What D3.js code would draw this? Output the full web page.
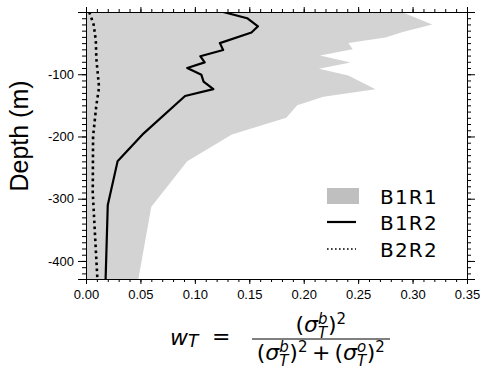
<!DOCTYPE html>
<html>
<head>
<meta charset="utf-8">
<script src="https://cdn.jsdelivr.net/npm/d3@7"></script>
<style>
    body { margin: 0; background: white; }
    .axis path, .axis line { stroke: black; }
</style>
</head>
<body>
<script>
// B1R1 (grey envelope)
var b1r1Depth = [0, -20, -32, -41, -50, -60, -70, -81, -91, -102, -110, -124, -136, -150, -170, -197, -240, -313, -430]
var b1r1Value = [0.290, 0.318, 0.291, 0.275, 0.241, 0.245, 0.215, 0.243, 0.214, 0.241, 0.250, 0.266, 0.218, 0.194, 0.184, 0.134, 0.093, 0.060, 0.048]

// B1R2 (solid line)
var b1r2Depth = [0, -10, -23, -33, -50, -61, -71, -81, -90, -101, -112, -124, -135, -195, -240, -310, -430]
var b1r2Value = [0.126, 0.148, 0.158, 0.152, 0.123, 0.126, 0.105, 0.109, 0.093, 0.106, 0.108, 0.117, 0.091, 0.053, 0.029, 0.020, 0.018]

// B2R2 (dotted line)
var b2r2Depth = [0, -20, -45, -75, -121, -150, -200, -290, -430]
var b2r2Value = [0.003, 0.007, 0.009, 0.0095, 0.012, 0.0095, 0.0065, 0.0062, 0.0105]

// tick values
var xTicks = [0, 0.05, 0.1, 0.15, 0.2, 0.25, 0.3, 0.35]
var yTicks = [-400, -300, -200, -100]
var legendNames = ["B1R1", "B1R2", "B2R2"]

function zipData(depth, value) {
    return depth.map(function(d, i) { return {depth: d, value: value[i]} })
}

var w = 480
var h = 368
// plot box edges
var pLeft = 86, pRight = 467, pTop = 12, pBottom = 279

var svg = d3.select("body")
    .append("svg")
    .attr("width", w)
    .attr("height", h)

var xScale = d3.scaleLinear().domain([0, 0.35]).range([pLeft, pRight])
var yScale = d3.scaleLinear().domain([0, -429]).range([pTop, pBottom])

svg.append("clipPath")
    .attr("id", "plotclip")
    .append("rect")
    .attr("x", pLeft).attr("y", pTop)
    .attr("width", pRight - pLeft).attr("height", pBottom - pTop)

var plot = svg.append("g").attr("clip-path", "url(#plotclip)")

// grey area from zero to B1R1
var area = d3.area()
    .y(function(d) { return yScale(d.depth) })
    .x0(xScale(0))
    .x1(function(d) { return xScale(d.value) })

plot.append("path")
    .datum(zipData(b1r1Depth, b1r1Value))
    .attr("d", area)
    .attr("fill", "#d3d3d3")

var line = d3.line()
    .x(function(d) { return xScale(d.value) })
    .y(function(d) { return yScale(d.depth) })

plot.append("path")
    .datum(zipData(b1r2Depth, b1r2Value))
    .attr("d", line)
    .attr("fill", "none")
    .attr("stroke", "black")
    .attr("stroke-width", 2.2)
    .attr("stroke-linejoin", "round")

plot.append("path")
    .datum(zipData(b2r2Depth, b2r2Value))
    .attr("d", line)
    .attr("fill", "none")
    .attr("stroke", "black")
    .attr("stroke-width", 2.6)
    .attr("stroke-dasharray", "2.6,3.4")

// axes: minor ticks first, then major ticks with labels
var xMinor = d3.range(0, 0.3501, 0.01)
var yMinor = d3.range(-420, 0.1, 10)

function addAxis(axis, transform, labels) {
    var g = svg.append("g")
        .attr("class", "axis")
        .attr("transform", transform)
        .call(axis)
    g.selectAll("text")
        .attr("font-family", "'Liberation Sans', Arial, sans-serif")
        .attr("font-size", 13)
        .attr("fill", "black")
    if (!labels) g.selectAll("text").remove()
    return g
}

addAxis(d3.axisBottom(xScale).tickValues(xMinor).tickSize(3).tickFormat(""), "translate(0," + pBottom + ")", false)
addAxis(d3.axisTop(xScale).tickValues(xMinor).tickSize(3).tickFormat(""), "translate(0," + pTop + ")", false)
addAxis(d3.axisLeft(yScale).tickValues(yMinor).tickSize(4).tickFormat(""), "translate(" + pLeft + ",0)", false)
addAxis(d3.axisRight(yScale).tickValues(yMinor).tickSize(4).tickFormat(""), "translate(" + pRight + ",0)", false)

addAxis(d3.axisBottom(xScale).tickValues(xTicks).tickSize(5).tickPadding(6).tickFormat(d3.format(".2f")), "translate(0," + pBottom + ")", true)
addAxis(d3.axisTop(xScale).tickValues(xTicks).tickSize(5), "translate(0," + pTop + ")", false)
addAxis(d3.axisLeft(yScale).tickValues(yTicks).tickSize(8).tickPadding(4).tickFormat(function(d) { return String(d) }), "translate(" + pLeft + ",0)", true)
addAxis(d3.axisRight(yScale).tickValues(yTicks).tickSize(8), "translate(" + pRight + ",0)", false)

svg.selectAll(".axis .domain").attr("stroke-width", 1)

// y label
svg.append("text")
    .attr("text-anchor", "middle")
    .attr("transform", "translate(28, 136) rotate(-90)")
    .attr("font-family", "'Liberation Sans', Arial, sans-serif")
    .attr("font-size", 25)
    .text("Depth (m)")

// legend
var legendY = [196, 222, 249]
var legend = svg.append("g")
legend.append("rect")
    .attr("x", 327).attr("y", legendY[0] - 8)
    .attr("width", 32).attr("height", 16)
    .attr("fill", "#bfbfbf")
legend.append("line")
    .attr("x1", 327).attr("x2", 356)
    .attr("y1", legendY[1]).attr("y2", legendY[1])
    .attr("stroke", "black").attr("stroke-width", 2.2)
legend.append("line")
    .attr("x1", 327).attr("x2", 356)
    .attr("y1", legendY[2]).attr("y2", legendY[2])
    .attr("stroke", "black").attr("stroke-width", 1.6)
    .attr("stroke-dasharray", "1.6,2.4")
legend.selectAll("text.leg")
    .data(legendNames)
    .enter()
    .append("text")
    .attr("class", "leg")
    .attr("x", 380)
    .attr("y", function(d, i) { return legendY[i] + 8 })
    .attr("font-family", "'DejaVu Sans', sans-serif")
    .attr("font-size", 20)
    .attr("letter-spacing", 1.2)
    .text(function(d) { return d })

// x label: w_T = (σ_T^b)^2 / ((σ_T^b)^2 + (σ_T^o)^2)
var mathFont = "'DejaVu Sans', sans-serif"
var mathSize = 22
var scriptSize = 15

// lay out a row of tokens, returns its width
function mathRow(g, x, y, tokens) {
    var cx = x
    tokens.forEach(function(tk) {
        if (tk.s !== undefined) {
            cx += tk.pre || 0
            var t = g.append("text")
                .attr("x", cx).attr("y", y)
                .attr("font-family", mathFont)
                .attr("font-size", mathSize)
                .attr("font-style", tk.it ? "italic" : "normal")
                .text(tk.s)
            cx += t.node().getComputedTextLength() + (tk.pad || 0)
        } else {
            var wmax = 0
            if (tk.sup) {
                var ts = g.append("text")
                    .attr("x", cx).attr("y", y - 8)
                    .attr("font-family", mathFont)
                    .attr("font-size", scriptSize)
                    .attr("font-style", tk.supIt ? "italic" : "normal")
                    .text(tk.sup)
                wmax = Math.max(wmax, ts.node().getComputedTextLength())
            }
            if (tk.sub) {
                var tb = g.append("text")
                    .attr("x", cx).attr("y", y + (tk.subDy || 5.5))
                    .attr("font-family", mathFont)
                    .attr("font-size", tk.subSize || scriptSize)
                    .attr("font-style", "italic")
                    .text(tk.sub)
                wmax = Math.max(wmax, tb.node().getComputedTextLength())
            }
            cx += wmax + 0.5
        }
    })
    return cx - x
}

function sigmaSq(ch) {
    return [
        {s: "("}, {s: "σ", it: true}, {sup: ch, sub: "T", supIt: true},
        {s: ")"}, {sup: "2"}
    ]
}

var math = svg.append("g")
mathRow(math, 170, 345, [{s: "w", it: true}, {sub: "T", subDy: 1.5, subSize: 17}])
mathRow(math, 212, 344, [{s: "="}])

var num = math.append("g")
var numW = mathRow(num, 0, 332, sigmaSq("b"))
var den = math.append("g")
var denParts = sigmaSq("b").concat([{s: "+", pre: 4, pad: 4}]).concat(sigmaSq("o"))
var denW = mathRow(den, 0, 360, denParts)

var barLeft = 252, barRight = 390
num.attr("transform", "translate(" + ((barLeft + barRight - numW) / 2) + ",0)")
den.attr("transform", "translate(" + ((barLeft + barRight - denW) / 2) + ",0)")
math.append("line")
    .attr("x1", barLeft).attr("x2", barRight)
    .attr("y1", 339).attr("y2", 339)
    .attr("stroke", "black").attr("stroke-width", 1)
</script>
</body>
</html>
